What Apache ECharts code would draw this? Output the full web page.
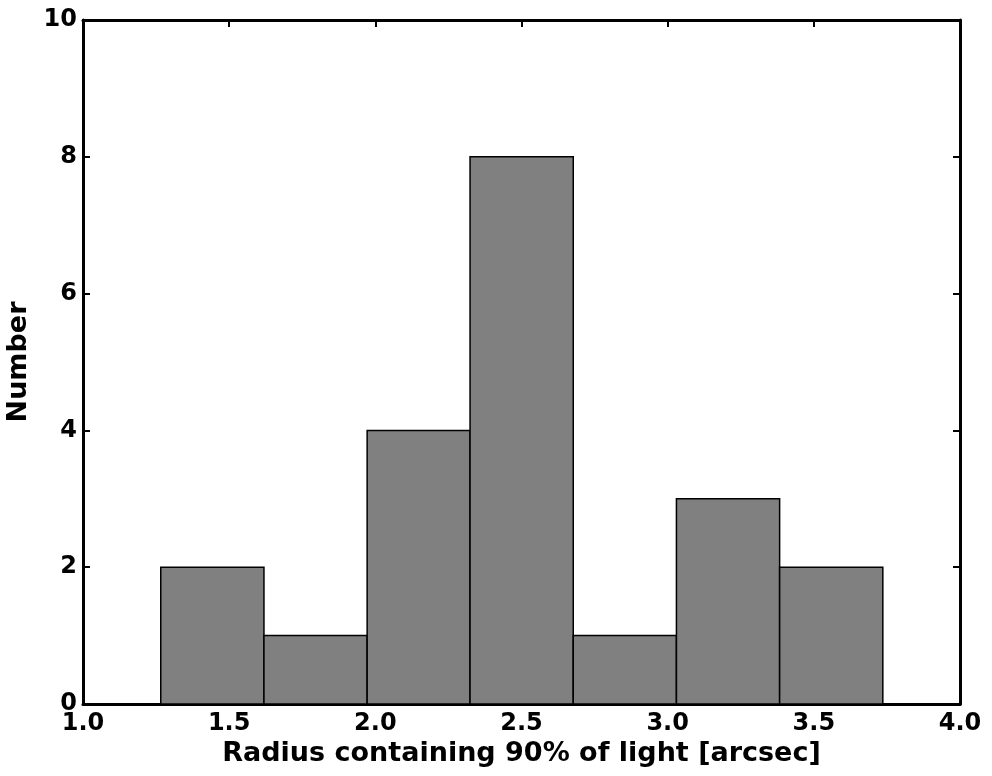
<!DOCTYPE html>
<html>
<head>
<meta charset="utf-8">
<script src="https://cdn.jsdelivr.net/npm/echarts@6/dist/echarts.min.js"></script>
<style>
  html, body { margin: 0; padding: 0; background: #fff; }
  #chart { width: 992px; height: 776px; }
</style>
</head>
<body>
<div id="chart"></div>
<script>
// histogram bins: left edge, right edge, count
const binEdges = [1.266, 1.619, 1.972, 2.324, 2.677, 3.030, 3.383, 3.736];
const binCounts = [2, 1, 4, 8, 1, 3, 2];
const xTicks = [1.0, 1.5, 2.0, 2.5, 3.0, 3.5, 4.0];
const yTicks = [0, 2, 4, 6, 8, 10];

const FONT = "DejaVu Sans";

const bins = binCounts.map((count, i) => [binEdges[i], binEdges[i + 1], count]);

const chart = echarts.init(document.getElementById("chart"), null, { renderer: "canvas" });

const frameLine = { show: true, onZero: false, lineStyle: { color: "#000", width: 3 } };
const innerTick = { show: true, inside: true, length: 7, lineStyle: { color: "#000", width: 2 } };

chart.setOption({
  backgroundColor: "#fff",
  animation: false,
  grid: { left: 83, right: 32, top: 20, bottom: 72, containLabel: false, outerBoundsMode: "none" },
  xAxis: [
    {
      type: "value",
      min: xTicks[0],
      max: xTicks[xTicks.length - 1],
      interval: 0.5,
      position: "bottom",
      name: "Radius containing 90% of light [arcsec]",
      nameLocation: "middle",
      nameGap: 34,
      nameTextStyle: { fontFamily: FONT, fontWeight: "bold", fontSize: 27, color: "#000" },
      axisLine: frameLine,
      axisTick: innerTick,
      splitLine: { show: false },
      axisLabel: {
        fontFamily: FONT, fontWeight: "bold", fontSize: 24, color: "#000", margin: 8,
        showMinLabel: true, showMaxLabel: true,
        formatter: (v) => v.toFixed(1)
      }
    },
    {
      type: "value",
      min: xTicks[0],
      max: xTicks[xTicks.length - 1],
      interval: 0.5,
      position: "top",
      axisLine: frameLine,
      axisTick: innerTick,
      axisLabel: { show: false },
      splitLine: { show: false }
    }
  ],
  yAxis: [
    {
      type: "value",
      min: yTicks[0],
      max: yTicks[yTicks.length - 1],
      interval: 2,
      position: "left",
      name: "Number",
      nameLocation: "middle",
      nameGap: 44,
      nameTextStyle: { fontFamily: FONT, fontWeight: "bold", fontSize: 27, color: "#000" },
      axisLine: frameLine,
      axisTick: innerTick,
      splitLine: { show: false },
      axisLabel: { fontFamily: FONT, fontWeight: "bold", fontSize: 24, color: "#000", margin: 6 }
    },
    {
      type: "value",
      min: yTicks[0],
      max: yTicks[yTicks.length - 1],
      interval: 2,
      position: "right",
      axisLine: frameLine,
      axisTick: innerTick,
      axisLabel: { show: false },
      splitLine: { show: false }
    }
  ],
  series: [
    {
      type: "custom",
      xAxisIndex: 0,
      yAxisIndex: 0,
      data: bins,
      encode: { x: [0, 1], y: 2 },
      renderItem: (params, api) => {
        const p0 = api.coord([api.value(0), api.value(2)]);
        const p1 = api.coord([api.value(1), 0]);
        return {
          type: "rect",
          shape: { x: p0[0], y: p0[1], width: p1[0] - p0[0], height: p1[1] - p0[1] },
          style: { fill: "#808080", stroke: "#000", lineWidth: 1.5 }
        };
      }
    }
  ]
});
</script>
</body>
</html>
